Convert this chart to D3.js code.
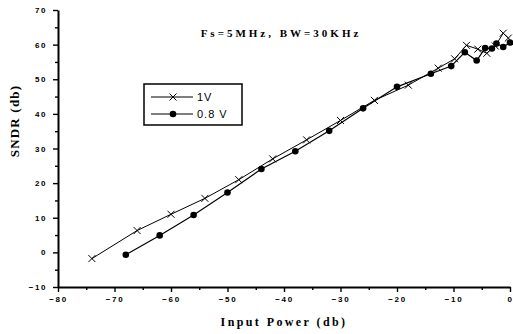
<!DOCTYPE html>
<html>
<head>
<meta charset="utf-8">
<script src="https://cdn.jsdelivr.net/npm/d3@7"></script>
<style>
  html, body { margin: 0; padding: 0; background: #fff; }
  svg { display: block; }
</style>
</head>
<body>
<div id="chart"></div>
<script>
"use strict";

// Series (input power in db, SNDR in db)
const xOneVolt = [-74, -66, -60, -54, -48, -42, -36, -30, -24, -18, -12.7, -9.8, -7.7, -5.7, -4.1, -2.6, -1.2, -0.3];
const yOneVolt = [-1.8, 6.3, 11.0, 15.6, 21.0, 27.0, 32.5, 38.1, 43.9, 48.3, 53.2, 55.9, 59.8, 58.7, 57.5, 59.6, 63.3, 61.9];

const xLowVolt = [-68, -62, -56, -50, -44, -38, -32, -26, -20, -14, -10.4, -8, -5.9, -4.4, -3.2, -2.4, -1.2, 0];
const yLowVolt = [-0.7, 4.9, 10.8, 17.3, 24.1, 29.2, 35.1, 41.6, 47.8, 51.6, 53.8, 57.8, 55.4, 59.0, 58.9, 60.3, 59.3, 60.6];

const xTicks = [-80, -70, -60, -50, -40, -30, -20, -10, 0];
const yTicks = [-10, 0, 10, 20, 30, 40, 50, 60, 70];
const seriesNames = ["1V", "0.8 V"];

const width = 513;
const height = 334;

const svg = d3.select("#chart")
  .append("svg")
  .attr("width", width)
  .attr("height", height);

// Scales
const x = d3.scaleLinear().domain([-80, 0]).range([58, 510]);
const y = d3.scaleLinear().domain([-10, 70]).range([287, 10]);

const tickFont = "'Liberation Sans', Arial, sans-serif";
const titleFont = "'Liberation Serif', 'Times New Roman', serif";

// Bottom axis + minor ticks
svg.append("g")
  .attr("transform", `translate(0,${y(-10)})`)
  .call(d3.axisBottom(x).tickValues(xTicks).tickSize(5).tickSizeOuter(0).tickPadding(4));

svg.append("g")
  .attr("transform", `translate(0,${y(-10)})`)
  .call(d3.axisBottom(x).tickValues(d3.range(-75, 0, 10)).tickSize(3).tickFormat(""))
  .call(g => g.select(".domain").remove());

// Left axis + minor ticks
svg.append("g")
  .attr("transform", `translate(${x(-80)},0)`)
  .call(d3.axisLeft(y).tickValues(yTicks).tickSize(5).tickSizeOuter(0).tickPadding(6));

svg.append("g")
  .attr("transform", `translate(${x(-80)},0)`)
  .call(d3.axisLeft(y).tickValues(d3.range(-5, 70, 10)).tickSize(3).tickFormat(""))
  .call(g => g.select(".domain").remove());

svg.selectAll(".domain").attr("stroke", "#000").attr("stroke-width", 2);
svg.selectAll(".tick line").attr("stroke", "#000").attr("stroke-width", 1.4);
svg.selectAll(".tick text")
  .attr("fill", "#000")
  .style("font-family", tickFont)
  .style("font-weight", "bold")
  .style("font-size", "8px")
  .style("letter-spacing", "1.6px");

// Axis titles
svg.append("text")
  .attr("x", 284)
  .attr("y", 326)
  .attr("text-anchor", "middle")
  .style("font-family", titleFont)
  .style("font-weight", "bold")
  .style("font-size", "12px")
  .style("letter-spacing", "2.4px")
  .text("Input Power (db)");

svg.append("text")
  .attr("transform", "translate(19,121) rotate(-90)")
  .attr("text-anchor", "middle")
  .style("font-family", titleFont)
  .style("font-weight", "bold")
  .style("font-size", "13px")
  .style("letter-spacing", "1.2px")
  .text("SNDR (db)");

// Annotation
svg.append("text")
  .attr("x", 281)
  .attr("y", 37)
  .attr("text-anchor", "middle")
  .style("font-family", titleFont)
  .style("font-weight", "bold")
  .style("font-size", "11px")
  .style("letter-spacing", "3px")
  .text("Fs=5MHz, BW=30KHz");

// Lines
const line = d3.line().x(d => x(d[0])).y(d => y(d[1]));
const oneVolt = d3.zip(xOneVolt, yOneVolt);
const lowVolt = d3.zip(xLowVolt, yLowVolt);

svg.append("path").datum(oneVolt)
  .attr("d", line).attr("fill", "none").attr("stroke", "#000").attr("stroke-width", 1);
svg.append("path").datum(lowVolt)
  .attr("d", line).attr("fill", "none").attr("stroke", "#000").attr("stroke-width", 1.2);

// Markers
function cross(g, cx, cy, s) {
  g.append("path")
    .attr("d", `M${cx - s},${cy - s}L${cx + s},${cy + s}M${cx - s},${cy + s}L${cx + s},${cy - s}`)
    .attr("stroke", "#000").attr("stroke-width", 1).attr("fill", "none");
}

const markers = svg.append("g");
oneVolt.forEach(d => cross(markers, x(d[0]), y(d[1]), 3.5));
markers.selectAll("circle").data(lowVolt).join("circle")
  .attr("cx", d => x(d[0])).attr("cy", d => y(d[1])).attr("r", 3.3).attr("fill", "#000");

// Legend
const legend = svg.append("g").attr("transform", "translate(144,84)");
legend.append("rect")
  .attr("width", 98).attr("height", 41)
  .attr("fill", "#fff").attr("stroke", "#000").attr("stroke-width", 1.5);

seriesNames.forEach((name, i) => {
  const ly = 13 + i * 17;
  legend.append("line")
    .attr("x1", 7).attr("x2", 49).attr("y1", ly).attr("y2", ly)
    .attr("stroke", "#000").attr("stroke-width", 1.2);
  if (i === 0) cross(legend, 29, ly, 3.5);
  else legend.append("circle").attr("cx", 29).attr("cy", ly).attr("r", 3.3).attr("fill", "#000");
  legend.append("text")
    .attr("x", 53).attr("y", ly + 4)
    .style("font-family", tickFont)
    .style("font-size", "11px")
    .style("letter-spacing", "1px")
    .text(name);
});
</script>
</body>
</html>
